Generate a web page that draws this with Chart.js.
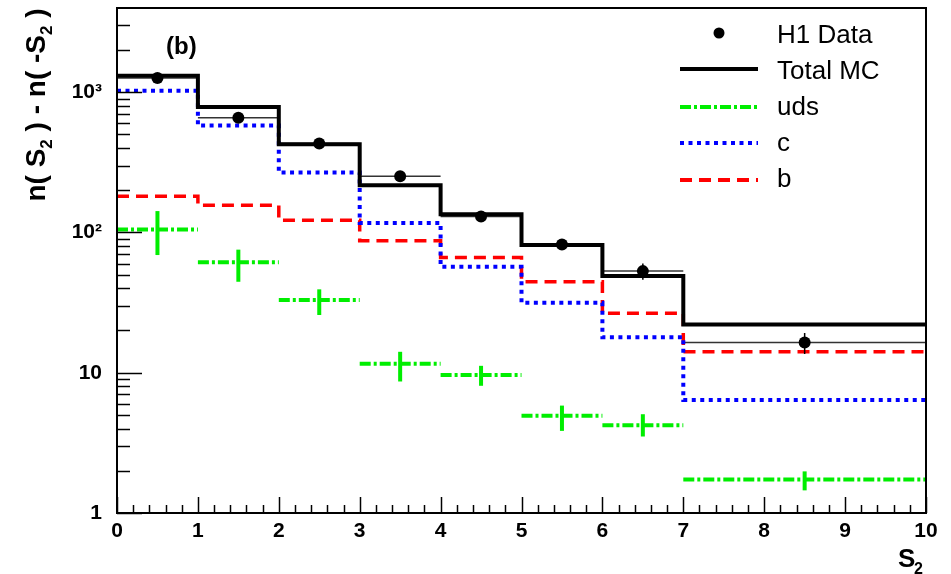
<!DOCTYPE html>
<html>
<head>
<meta charset="utf-8">
<script src="https://cdn.jsdelivr.net/npm/chart.js@4/dist/chart.umd.min.js"></script>
<style>
  html, body { margin: 0; padding: 0; background: #fff; }
  #wrap { width: 951px; height: 574px; }
</style>
</head>
<body>
<div id="wrap"><canvas id="c" width="951" height="574"></canvas></div>
<script>
// ---- data ----
const binEdges   = [0, 1, 2, 3, 4, 5, 6, 7, 10];
const binCenters = [0.5, 1.5, 2.5, 3.5, 4.5, 5.5, 6.5, 8.5];
const dataValues = [1260, 658, 430, 252, 130, 82, 53, 16.4];
const dataErrors = [30, 18, 14, 10, 6, 5, 7, 2.8];
const totalMC    = [1310, 783, 425, 217, 135, 81.5, 48.9, 22.1];
const cValues    = [1025, 578, 267, 117, 56.9, 31.5, 17.9, 6.4];
const bValues    = [181, 156, 122, 87.1, 66.4, 44.5, 26.5, 14.1];
const udsValues  = [105, 61.2, 33.0, 11.6, 9.65, 4.93, 4.23, 1.73];
const udsErrLow  = [69, 44.5, 25.8, 8.66, 8.07, 3.85, 3.51, 1.45];
const udsErrHigh = [142, 75.4, 39.3, 14.1, 11.2, 5.83, 5.06, 1.98];
const yTickLabels = { 1: '1', 10: '10', 100: '10\u00B2', 1000: '10\u00B3' };
const legendLabels = ['H1 Data', 'Total MC', 'uds', 'c', 'b'];

const FONT = '"Liberation Sans", Arial, Helvetica, sans-serif';
const GREEN = '#00ee00', BLUE = '#0000ff', RED = '#ff0000';

function stepPoints(vals) {
  const pts = vals.map((v, i) => ({ x: binEdges[i], y: v }));
  pts.push({ x: binEdges[binEdges.length - 1], y: vals[vals.length - 1] });
  return pts;
}
function barPoints(vals) {
  const pts = [];
  vals.forEach((v, i) => {
    pts.push({ x: binEdges[i], y: v }, { x: binEdges[i + 1], y: v }, { x: binEdges[i + 1], y: null });
  });
  return pts;
}

const errorPlugin = {
  id: 'errorPlugin',
  beforeDatasetsDraw(chart) {
    const { ctx, scales: { x, y } } = chart;
    const a = chart.chartArea;
    ctx.save();
    ctx.beginPath();
    ctx.rect(a.left, a.top, a.right - a.left, a.bottom - a.top);
    ctx.clip();
    ctx.strokeStyle = '#333';
    ctx.lineWidth = 1.5;
    dataValues.forEach((v, i) => {
      const py = y.getPixelForValue(v);
      ctx.beginPath();
      ctx.moveTo(x.getPixelForValue(binEdges[i]), py);
      ctx.lineTo(x.getPixelForValue(binEdges[i + 1]), py);
      ctx.stroke();
    });
    ctx.restore();
  },
  afterDatasetsDraw(chart) {
    const { ctx, scales: { x, y } } = chart;
    ctx.save();
    ctx.strokeStyle = GREEN;
    ctx.lineWidth = 4;
    udsValues.forEach((v, i) => {
      const px = x.getPixelForValue(binCenters[i]);
      ctx.beginPath();
      ctx.moveTo(px, y.getPixelForValue(udsErrLow[i]));
      ctx.lineTo(px, y.getPixelForValue(udsErrHigh[i]));
      ctx.stroke();
    });
    ctx.strokeStyle = '#000';
    ctx.lineWidth = 1.5;
    dataValues.forEach((v, i) => {
      const px = x.getPixelForValue(binCenters[i]);
      ctx.beginPath();
      ctx.moveTo(px, y.getPixelForValue(v - dataErrors[i]));
      ctx.lineTo(px, y.getPixelForValue(v + dataErrors[i]));
      ctx.stroke();
    });
    ctx.restore();
  }
};

const framePlugin = {
  id: 'framePlugin',
  afterDraw(chart) {
    const { ctx, chartArea: a, scales: { x, y } } = chart;
    ctx.save();
    ctx.strokeStyle = '#000';
    ctx.lineWidth = 2;
    ctx.strokeRect(a.left, a.top, a.right - a.left, a.bottom - a.top);
    ctx.lineWidth = 1.5;
    for (let k = 0; k <= 50; k++) {
      const v = k * 0.2;
      const px = Math.round(x.getPixelForValue(v)) + 0.5;
      const len = (k % 5 === 0) ? 16 : 8;
      ctx.beginPath();
      ctx.moveTo(px, a.bottom);
      ctx.lineTo(px, a.bottom - len);
      ctx.stroke();
    }
    for (let d = 1; d <= 1000; d *= 10) {
      for (let m = 1; m <= 9; m++) {
        const v = d * m;
        if (v > y.max) break;
        const py = Math.round(y.getPixelForValue(v)) + 0.5;
        const len = (m === 1) ? 25 : 13;
        ctx.beginPath();
        ctx.moveTo(a.left, py);
        ctx.lineTo(a.left + len, py);
        ctx.stroke();
      }
    }
    ctx.fillStyle = '#000';
    ctx.font = 'bold 24px ' + FONT;
    ctx.textAlign = 'left';
    ctx.textBaseline = 'alphabetic';
    ctx.fillText('(b)', 166, 54);

    ctx.font = 'bold 26px ' + FONT;
    ctx.fillText('S', 898, 567);
    ctx.font = 'bold 16px ' + FONT;
    ctx.fillText('2', 914, 574);

    const parts = [['n( S', false], ['2', true], [' ) - n( -S', false], ['2', true], [' )', false]];
    const bigF = 'bold 28px ' + FONT, smallF = 'bold 17px ' + FONT;
    let total = 0;
    parts.forEach(p => { ctx.font = p[1] ? smallF : bigF; total += ctx.measureText(p[0]).width; });
    ctx.translate(45, 105);
    ctx.rotate(-Math.PI / 2);
    let cx = -total / 2;
    parts.forEach(p => {
      ctx.font = p[1] ? smallF : bigF;
      ctx.fillText(p[0], cx, p[1] ? 7 : 0);
      cx += ctx.measureText(p[0]).width;
    });
    ctx.setTransform(1, 0, 0, 1, 0, 0);

    const lx0 = 680, lx1 = 758, tx = 777;
    const rows = [43, 79, 115, 151, 187];
    ctx.font = '26px ' + FONT;
    ctx.textAlign = 'left';
    ctx.textBaseline = 'alphabetic';
    legendLabels.forEach((t, i) => ctx.fillText(t, tx, rows[i]));
    ctx.beginPath();
    ctx.arc(719, 33, 5.5, 0, Math.PI * 2);
    ctx.fill();
    const samples = [
      { y: 69, color: '#000', w: 4, dash: [] },
      { y: 107, color: GREEN, w: 4, dash: [11, 3, 3, 3] },
      { y: 143, color: BLUE, w: 4, dash: [4, 4.5] },
      { y: 180, color: RED, w: 4, dash: [12, 7] }
    ];
    samples.forEach(s => {
      ctx.strokeStyle = s.color;
      ctx.lineWidth = s.w;
      ctx.setLineDash(s.dash);
      ctx.beginPath();
      ctx.moveTo(lx0, s.y);
      ctx.lineTo(lx1, s.y);
      ctx.stroke();
    });
    ctx.setLineDash([]);
    ctx.restore();
  }
};

new Chart(document.getElementById('c'), {
  type: 'line',
  data: {
    datasets: [
      {
        label: 'H1 Data',
        data: binCenters.map((x, i) => ({ x: x, y: dataValues[i] })),
        showLine: false,
        pointRadius: 6,
        pointBackgroundColor: '#000',
        pointBorderColor: '#000',
        pointBorderWidth: 0
      },
      {
        label: 'Total MC',
        data: stepPoints(totalMC),
        stepped: 'before',
        borderColor: '#000',
        borderWidth: 4,
        pointRadius: 0,
        fill: false
      },
      {
        label: 'c',
        data: stepPoints(cValues),
        stepped: 'before',
        borderColor: BLUE,
        borderWidth: 4,
        borderDash: [4, 4.5],
        pointRadius: 0,
        fill: false
      },
      {
        label: 'b',
        data: stepPoints(bValues),
        stepped: 'before',
        borderColor: RED,
        borderWidth: 3.5,
        borderDash: [12, 7],
        pointRadius: 0,
        fill: false
      },
      {
        label: 'uds',
        data: barPoints(udsValues),
        borderColor: GREEN,
        borderWidth: 4,
        borderDash: [11, 3, 3, 3],
        pointRadius: 0,
        spanGaps: false,
        fill: false
      }
    ]
  },
  options: {
    responsive: false,
    animation: false,
    devicePixelRatio: 1,
    layout: { padding: { top: 8, right: 25, left: 0, bottom: 0 } },
    plugins: { legend: { display: false }, tooltip: { enabled: false } },
    scales: {
      x: {
        type: 'linear',
        min: 0, max: 10,
        grid: { display: false, drawTicks: false },
        border: { display: true, color: '#000', width: 2 },
        ticks: {
          stepSize: 1, autoSkip: false, maxRotation: 0, padding: 6,
          color: '#000', font: { family: FONT, size: 21, weight: 'bold' }
        },
        afterFit(s) { s.height = 61; s.paddingLeft = 0; s.paddingRight = 0; }
      },
      y: {
        type: 'logarithmic',
        min: 1, max: 3981,
        grid: { display: false, drawTicks: false },
        border: { display: true, color: '#000', width: 2 },
        ticks: {
          autoSkip: false, padding: 15, color: '#000',
          font: { family: FONT, size: 21, weight: 'bold' },
          callback(v) {
            const l = Math.log10(v);
            if (Math.abs(l - Math.round(l)) < 1e-9) {
              const key = Math.round(Math.pow(10, Math.round(l)));
              return yTickLabels[key] !== undefined ? yTickLabels[key] : '';
            }
            return '';
          }
        },
        afterFit(s) { s.width = 117; s.paddingTop = 0; s.paddingBottom = 0; }
      }
    }
  },
  plugins: [errorPlugin, framePlugin]
});
</script>
</body>
</html>
